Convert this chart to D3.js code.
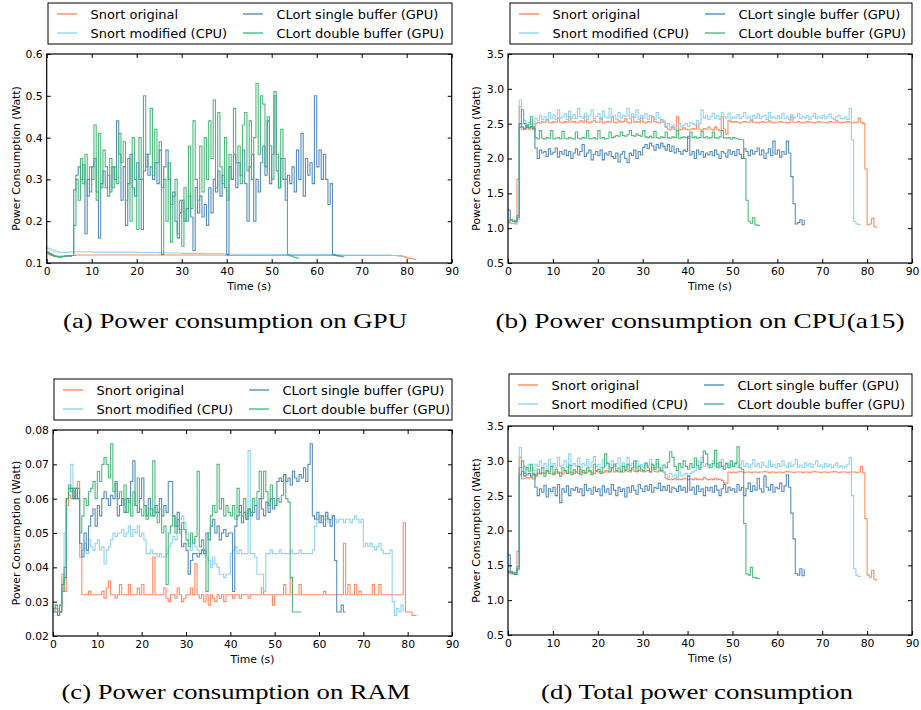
<!DOCTYPE html>
<html>
<head>
<meta charset="utf-8">
<script src="https://cdn.jsdelivr.net/npm/d3@7"></script>
<style>
  body { margin: 0; background: #fff; }
  svg text { font-family: "DejaVu Sans", sans-serif; }
</style>
</head>
<body>
<script>
const width = 921, height = 710;
const timeStep = 0.5; // one sample every half second, starting at t = 0

const seriesNames = ['Snort original', 'Snort modified (CPU)', 'CLort single buffer (GPU)', 'CLort double buffer (GPU)'];
const seriesColors = ['coral', 'skyblue', 'steelblue', 'mediumseagreen'];
const timeTicks = [0, 10, 20, 30, 40, 50, 60, 70, 80, 90];
const gpuTicks = [0.1, 0.2, 0.3, 0.4, 0.5, 0.6];
const cpuTicks = [0.5, 1.0, 1.5, 2.0, 2.5, 3.0, 3.5];
const ramTicks = [0.02, 0.03, 0.04, 0.05, 0.06, 0.07, 0.08];
const totalTicks = [0.5, 1.0, 1.5, 2.0, 2.5, 3.0, 3.5];
const captions = ['(a) Power consumption on GPU', '(b) Power consumption on CPU(a15)',
                  '(c) Power consumption on RAM', '(d) Total power consumption'];

// ---- (a) GPU
const gpuSnortOrig = [0.122,0.12,0.118,0.116,0.115,0.114,0.114,0.115,0.116,0.117,
  0.117,0.118,0.118,0.119,0.119,0.119,0.119,0.119,0.119,0.119,
  0.119,0.119,0.119,0.119,0.119,0.119,0.119,0.119,0.119,0.119,
  0.119,0.119,0.119,0.119,0.119,0.119,0.119,0.119,0.119,0.119,
  0.119,0.119,0.119,0.119,0.119,0.119,0.119,0.119,0.119,0.119,
  0.119,0.119,0.119,0.119,0.119,0.119,0.119,0.119,0.119,0.119,
  0.119,0.119,0.119,0.119,0.119,0.119,0.119,0.119,0.119,0.119,
  0.119,0.119,0.119,0.119,0.119,0.119,0.119,0.119,0.119,0.119,
  0.118,0.118,0.118,0.118,0.118,0.118,0.118,0.118,0.118,0.118,
  0.118,0.118,0.118,0.118,0.118,0.118,0.118,0.118,0.118,0.118,
  0.118,0.118,0.118,0.118,0.118,0.118,0.118,0.118,0.118,0.118,
  0.118,0.118,0.118,0.118,0.118,0.118,0.118,0.118,0.118,0.118,
  0.118,0.118,0.118,0.118,0.118,0.118,0.118,0.118,0.118,0.118,
  0.118,0.118,0.118,0.118,0.118,0.118,0.118,0.118,0.118,0.118,
  0.118,0.118,0.118,0.118,0.118,0.118,0.118,0.118,0.118,0.118,
  0.118,0.118,0.118,0.118,0.118,0.118,0.117,0.117,0.116,0.114,
  0.112,0.111,0.110,0.109,0.108];
const gpuSnortMod = [0.136,0.134,0.131,0.129,0.127,0.126,0.125,0.125,0.125,0.126,
  0.126,0.126,0.127,0.127,0.127,0.127,0.127,0.127,0.127,0.127,
  0.126,0.126,0.126,0.126,0.126,0.126,0.126,0.126,0.126,0.126,
  0.126,0.126,0.126,0.126,0.126,0.126,0.126,0.126,0.126,0.126,
  0.125,0.125,0.125,0.125,0.125,0.125,0.125,0.125,0.125,0.125,
  0.124,0.124,0.124,0.124,0.124,0.124,0.124,0.124,0.124,0.124,
  0.123,0.123,0.123,0.123,0.123,0.123,0.123,0.123,0.123,0.123,
  0.122,0.122,0.122,0.122,0.122,0.122,0.122,0.122,0.122,0.122,
  0.121,0.121,0.121,0.121,0.121,0.121,0.121,0.121,0.121,0.121,
  0.121,0.121,0.121,0.121,0.121,0.121,0.121,0.121,0.121,0.121,
  0.12,0.12,0.12,0.12,0.12,0.12,0.12,0.12,0.12,0.12,
  0.12,0.12,0.12,0.12,0.12,0.12,0.12,0.12,0.12,0.12,
  0.12,0.12,0.12,0.12,0.12,0.12,0.12,0.12,0.12,0.12,
  0.119,0.119,0.119,0.119,0.119,0.119,0.119,0.119,0.119,0.119,
  0.119,0.119,0.119,0.119,0.119,0.119,0.119,0.119,0.119,0.119,
  0.119,0.119,0.119,0.118,0.118,0.118,0.117,0.116,0.113];
const gpuClortSingle = [0.125,0.122,0.119,0.117,0.116,0.115,0.116,0.116,0.117,0.117,
  0.117,0.118,0.275,0.31,0.33,0.30,0.335,0.17,0.30,0.27,
  0.33,0.35,0.27,0.16,0.29,0.32,0.28,0.31,0.27,0.33,
  0.30,0.44,0.36,0.25,0.33,0.19,0.29,0.36,0.28,0.26,
  0.34,0.30,0.18,0.32,0.36,0.31,0.33,0.30,0.34,0.29,
  0.37,0.28,0.33,0.37,0.30,0.24,0.27,0.20,0.16,0.22,
  0.25,0.20,0.23,0.26,0.21,0.13,0.28,0.22,0.26,0.21,
  0.24,0.19,0.28,0.22,0.30,0.27,0.32,0.26,0.31,0.28,
  0.12,0.33,0.30,0.36,0.28,0.34,0.31,0.37,0.29,0.20,
  0.33,0.36,0.20,0.30,0.27,0.34,0.38,0.31,0.44,0.29,
  0.36,0.50,0.32,0.28,0.35,0.30,0.25,0.31,0.29,0.33,
  0.27,0.37,0.30,0.41,0.26,0.35,0.31,0.34,0.29,0.50,
  0.33,0.37,0.30,0.36,0.30,0.24,0.29,0.12,0.118,0.117,
  0.116,0.115,0.113];
const gpuClortDouble = [0.126,0.123,0.12,0.117,0.116,0.115,0.115,0.116,0.116,0.117,
  0.117,0.118,0.19,0.30,0.25,0.35,0.29,0.36,0.26,0.33,
  0.30,0.43,0.25,0.41,0.28,0.37,0.33,0.26,0.35,0.28,
  0.33,0.29,0.41,0.34,0.39,0.25,0.35,0.20,0.40,0.30,
  0.18,0.40,0.30,0.50,0.33,0.36,0.47,0.31,0.42,0.34,
  0.39,0.12,0.30,0.20,0.34,0.15,0.26,0.30,0.17,0.25,
  0.14,0.28,0.20,0.38,0.23,0.44,0.30,0.25,0.38,0.27,
  0.40,0.30,0.44,0.35,0.49,0.28,0.46,0.33,0.29,0.40,
  0.25,0.36,0.30,0.47,0.34,0.38,0.29,0.43,0.46,0.32,
  0.44,0.30,0.40,0.53,0.36,0.50,0.48,0.33,0.45,0.38,
  0.30,0.51,0.36,0.28,0.42,0.35,0.30,0.12,0.117,0.115,
  0.113,0.112,0.111];

// ---- (b) CPU (a15)
const cpuSnortOrig = [1.08,1.07,1.07,1.06,1.7,2.75,2.42,2.43,2.45,2.42,
  2.44,2.41,2.5,2.52,2.51,2.53,2.52,2.56,2.52,2.51,
  2.53,2.52,2.58,2.52,2.51,2.53,2.52,2.6,2.52,2.53,
  2.51,2.52,2.54,2.52,2.6,2.52,2.51,2.53,2.55,2.52,
  2.52,2.58,2.51,2.52,2.53,2.52,2.6,2.52,2.51,2.54,
  2.52,2.53,2.57,2.52,2.51,2.6,2.52,2.53,2.52,2.58,
  2.52,2.51,2.53,2.52,2.6,2.53,2.52,2.51,2.56,2.52,
  2.45,2.42,2.41,2.45,2.42,2.6,2.41,2.42,2.44,2.42,
  2.41,2.42,2.43,2.42,2.48,2.42,2.41,2.43,2.42,2.45,
  2.42,2.41,2.45,2.42,2.40,2.60,2.42,2.35,2.55,2.53,
  2.52,2.53,2.52,2.51,2.52,2.53,2.52,2.52,2.55,2.52,
  2.52,2.51,2.52,2.53,2.52,2.52,2.54,2.52,2.51,2.52,
  2.52,2.53,2.52,2.52,2.51,2.52,2.6,2.52,2.52,2.53,
  2.52,2.51,2.52,2.53,2.52,2.52,2.51,2.52,2.53,2.52,
  2.52,2.52,2.51,2.53,2.52,2.52,2.54,2.52,2.51,2.52,
  2.52,2.53,2.52,2.51,2.52,2.52,2.58,2.52,2.5,1.85,
  1.05,1.06,1.14,1.02,1.0];
const cpuSnortMod = [1.12,1.11,1.1,1.1,1.12,2.84,2.5,2.55,2.49,2.52,
  2.5,2.48,2.58,2.55,2.62,2.56,2.6,2.54,2.66,2.57,
  2.62,2.56,2.7,2.58,2.6,2.64,2.56,2.68,2.58,2.63,
  2.57,2.72,2.6,2.58,2.65,2.56,2.62,2.7,2.57,2.6,
  2.64,2.56,2.68,2.6,2.58,2.72,2.59,2.62,2.56,2.66,
  2.58,2.62,2.6,2.72,2.57,2.64,2.59,2.7,2.56,2.62,
  2.58,2.64,2.56,2.62,2.6,2.56,2.66,2.58,2.52,2.55,
  2.46,2.5,2.44,2.48,2.42,2.47,2.5,2.45,2.48,2.5,
  2.46,2.52,2.5,2.48,2.55,2.5,2.7,2.58,2.62,2.56,
  2.6,2.65,2.58,2.62,2.56,2.66,2.6,2.58,2.65,2.57,
  2.6,2.58,2.63,2.57,2.6,2.66,2.58,2.61,2.56,2.62,
  2.58,2.64,2.57,2.6,2.62,2.56,2.66,2.58,2.6,2.57,
  2.62,2.58,2.65,2.57,2.6,2.56,2.63,2.58,2.6,2.64,
  2.57,2.6,2.58,2.62,2.56,2.6,2.65,2.57,2.6,2.58,
  2.62,2.57,2.6,2.64,2.58,2.56,2.6,2.62,2.57,2.58,
  2.6,2.56,2.72,2.27,1.1,1.06,1.05,1.04];
const cpuClortSingle = [1.26,1.12,1.1,1.09,1.15,2.5,2.45,2.42,2.47,2.44,
  2.46,2.43,2.15,2.0,2.12,2.08,2.1,2.03,2.14,2.06,
  2.09,2.15,2.02,2.1,2.06,2.12,2.04,2.1,2.0,2.08,
  2.14,2.05,2.1,2.2,2.03,2.08,2.12,1.98,2.06,2.1,
  2.04,2.12,1.98,2.08,2.05,2.1,2.03,2.0,2.08,1.95,
  2.06,2.1,2.0,1.94,2.08,2.04,2.12,2.0,2.1,2.05,
  2.16,2.2,2.14,2.22,2.18,2.12,2.2,2.15,2.22,2.17,
  2.12,2.2,2.1,2.18,2.08,2.14,2.1,2.06,2.12,2.1,
  2.32,2.05,2.1,2.0,2.12,2.06,2.1,2.02,2.08,2.05,
  2.1,2.04,2.12,2.06,2.0,2.1,2.08,2.02,2.12,2.06,
  2.1,2.04,2.13,2.06,2.0,2.14,2.1,2.04,2.12,2.06,
  2.1,2.15,2.05,2.12,2.0,2.08,2.14,2.04,2.25,2.06,
  2.12,2.02,2.1,2.06,2.25,2.08,1.74,1.35,1.06,1.08,
  1.12,1.05,1.12];
const cpuClortDouble = [1.1,1.12,1.1,1.11,1.18,2.45,2.7,2.5,2.45,2.48,
  2.6,2.45,2.3,2.28,2.4,2.29,2.28,2.3,2.29,2.4,
  2.28,2.29,2.3,2.28,2.39,2.29,2.28,2.3,2.29,2.28,
  2.38,2.29,2.28,2.3,2.29,2.4,2.28,2.29,2.3,2.28,
  2.4,2.29,2.3,2.28,2.29,2.38,2.3,2.31,2.33,2.32,
  2.38,2.33,2.32,2.34,2.4,2.33,2.32,2.35,2.33,2.32,
  2.4,2.31,2.3,2.32,2.3,2.39,2.3,2.29,2.31,2.3,
  2.38,2.3,2.29,2.31,2.3,2.4,2.29,2.3,2.31,2.3,
  2.29,2.38,2.3,2.31,2.29,2.3,2.39,2.3,2.31,2.29,
  2.3,2.38,2.3,2.29,2.31,2.4,2.3,2.29,2.3,2.28,
  2.3,2.29,2.28,2.27,2.27,2.0,1.4,1.1,1.07,1.15,
  1.05,1.04,1.03];

// ---- (c) RAM
const ramSnortOrig = [0.0275,0.028,0.0275,0.027,0.038,0.033,0.058,0.061,0.06,0.062,
  0.06,0.065,0.043,0.032,0.032,0.032,0.033,0.032,0.032,0.032,
  0.032,0.032,0.033,0.031,0.034,0.036,0.032,0.032,0.031,0.032,
  0.035,0.032,0.032,0.032,0.035,0.032,0.032,0.032,0.034,0.032,
  0.035,0.032,0.032,0.032,0.032,0.043,0.032,0.032,0.032,0.032,
  0.034,0.031,0.030,0.032,0.032,0.031,0.034,0.032,0.030,0.031,
  0.032,0.032,0.034,0.032,0.041,0.032,0.031,0.032,0.030,0.032,
  0.029,0.032,0.031,0.030,0.032,0.031,0.032,0.030,0.032,0.032,
  0.032,0.031,0.032,0.032,0.031,0.032,0.032,0.032,0.031,0.032,
  0.032,0.032,0.032,0.032,0.034,0.032,0.032,0.032,0.032,0.029,
  0.032,0.032,0.032,0.032,0.035,0.032,0.032,0.037,0.032,0.032,
  0.032,0.035,0.032,0.032,0.032,0.032,0.032,0.032,0.032,0.032,
  0.032,0.032,0.033,0.032,0.032,0.032,0.032,0.032,0.032,0.032,
  0.032,0.047,0.032,0.035,0.032,0.032,0.035,0.032,0.033,0.032,
  0.032,0.032,0.032,0.032,0.035,0.032,0.032,0.035,0.032,0.032,
  0.032,0.032,0.032,0.032,0.032,0.032,0.032,0.032,0.053,0.027,
  0.027,0.027,0.026,0.026,0.026];
const ramSnortMod = [0.027,0.029,0.028,0.029,0.036,0.05,0.06,0.062,0.07,0.06,
  0.061,0.06,0.043,0.045,0.047,0.044,0.048,0.046,0.045,0.047,
  0.048,0.045,0.046,0.041,0.045,0.046,0.048,0.05,0.049,0.05,
  0.05,0.051,0.049,0.05,0.052,0.049,0.051,0.05,0.052,0.049,
  0.05,0.048,0.044,0.044,0.045,0.044,0.044,0.043,0.044,0.043,
  0.043,0.044,0.046,0.047,0.049,0.048,0.052,0.054,0.055,0.053,
  0.05,0.047,0.045,0.048,0.046,0.045,0.044,0.045,0.044,0.043,
  0.042,0.04,0.043,0.041,0.04,0.038,0.038,0.037,0.038,0.038,
  0.044,0.045,0.046,0.044,0.045,0.044,0.044,0.044,0.074,0.044,
  0.044,0.043,0.038,0.038,0.038,0.033,0.044,0.044,0.045,0.044,
  0.044,0.044,0.045,0.044,0.044,0.044,0.044,0.045,0.044,0.044,
  0.044,0.045,0.044,0.044,0.044,0.044,0.044,0.045,0.052,0.054,
  0.055,0.053,0.054,0.055,0.053,0.054,0.055,0.054,0.053,0.054,
  0.054,0.053,0.054,0.054,0.053,0.054,0.055,0.054,0.053,0.054,
  0.046,0.047,0.046,0.047,0.046,0.045,0.046,0.047,0.045,0.044,
  0.044,0.044,0.045,0.03,0.026,0.028,0.027,0.029,0.027];
const ramClortSingle = [0.027,0.027,0.026,0.027,0.035,0.037,0.06,0.063,0.063,0.06,
  0.063,0.06,0.047,0.043,0.05,0.045,0.052,0.055,0.057,0.052,
  0.058,0.055,0.06,0.062,0.06,0.058,0.061,0.06,0.0645,0.055,
  0.058,0.06,0.056,0.06,0.059,0.065,0.071,0.058,0.056,0.06,
  0.066,0.058,0.055,0.06,0.057,0.055,0.058,0.056,0.06,0.055,
  0.058,0.056,0.065,0.065,0.055,0.052,0.056,0.051,0.046,0.047,
  0.045,0.038,0.042,0.044,0.044,0.043,0.044,0.045,0.044,0.05,
  0.048,0.052,0.054,0.05,0.052,0.048,0.05,0.051,0.049,0.05,
  0.05,0.033,0.052,0.055,0.058,0.053,0.056,0.054,0.057,0.055,
  0.056,0.058,0.054,0.06,0.057,0.055,0.059,0.056,0.06,0.057,
  0.058,0.065,0.066,0.065,0.067,0.065,0.066,0.064,0.068,0.066,
  0.065,0.067,0.066,0.069,0.065,0.07,0.076,0.055,0.054,0.056,
  0.053,0.055,0.052,0.056,0.054,0.052,0.055,0.042,0.027,0.027,
  0.029,0.027,0.027];
const ramClortDouble = [0.028,0.029,0.027,0.029,0.033,0.04,0.06,0.064,0.062,0.063,
  0.06,0.063,0.05,0.055,0.06,0.058,0.062,0.063,0.065,0.06,
  0.068,0.065,0.07,0.072,0.07,0.066,0.076,0.062,0.065,0.06,
  0.062,0.058,0.064,0.056,0.06,0.055,0.062,0.058,0.066,0.057,
  0.055,0.058,0.054,0.057,0.055,0.071,0.056,0.053,0.057,0.05,
  0.052,0.035,0.05,0.052,0.055,0.05,0.054,0.05,0.053,0.051,
  0.048,0.046,0.05,0.047,0.049,0.068,0.046,0.048,0.045,0.033,
  0.05,0.055,0.058,0.056,0.07,0.057,0.06,0.055,0.058,0.056,
  0.055,0.058,0.054,0.063,0.056,0.055,0.06,0.054,0.057,0.056,
  0.06,0.058,0.062,0.068,0.06,0.068,0.062,0.058,0.064,0.06,
  0.058,0.06,0.059,0.061,0.067,0.06,0.059,0.037,0.027,0.027,
  0.027,0.027,0.027];

// ---- (d) total
const totalSnortOrig = [1.39,1.38,1.38,1.37,1.7,3.05,2.74,2.75,2.76,2.75,
  2.76,2.74,2.8,2.82,2.81,2.83,2.82,2.85,2.82,2.81,
  2.82,2.84,2.82,2.83,2.81,2.86,2.82,2.84,2.83,2.82,
  2.84,2.82,2.88,2.83,2.82,2.84,2.85,2.83,2.82,2.86,
  2.84,2.85,2.83,2.86,2.84,2.85,2.9,2.84,2.85,2.84,
  2.85,2.84,2.86,2.85,2.84,2.88,2.85,2.84,2.86,2.85,
  2.84,2.85,2.86,2.84,2.9,2.85,2.84,2.86,2.85,2.84,
  2.75,2.73,2.74,2.73,2.75,2.73,2.74,2.73,2.75,2.74,
  2.73,2.74,2.73,2.75,2.73,2.74,2.73,2.76,2.74,2.73,
  2.74,2.73,2.75,2.73,2.74,2.72,2.68,2.68,2.84,2.83,
  2.84,2.83,2.84,2.85,2.84,2.83,2.84,2.84,2.83,2.84,
  2.84,2.83,2.84,2.84,2.85,2.84,2.83,2.84,2.84,2.83,
  2.84,2.84,2.83,2.84,2.85,2.84,2.84,2.83,2.84,2.84,
  2.84,2.83,2.84,2.84,2.83,2.84,2.85,2.84,2.84,2.83,
  2.84,2.84,2.83,2.84,2.84,2.85,2.84,2.83,2.84,2.84,
  2.84,2.83,2.84,2.84,2.84,2.83,2.84,2.92,2.83,2.17,
  1.36,1.33,1.43,1.3,1.28];
const totalSnortMod = [1.42,1.41,1.4,1.4,1.43,3.19,2.9,2.92,2.88,2.95,
  2.9,2.86,2.95,2.92,3.0,2.9,2.96,2.88,3.02,2.92,
  2.96,2.9,3.05,2.92,2.94,3.0,2.9,3.1,2.93,2.96,
  2.92,3.04,2.9,2.96,2.93,3.02,2.9,2.98,3.06,2.92,
  2.95,2.9,3.02,2.93,2.97,2.91,3.0,2.92,2.96,3.04,
  2.92,2.97,2.9,3.05,2.93,2.96,2.9,3.0,2.92,2.95,
  2.9,2.98,2.92,3.02,2.93,2.9,2.96,2.88,2.85,2.84,
  2.8,2.76,2.82,2.78,2.8,2.76,2.84,2.78,2.8,2.82,
  2.78,2.82,2.84,2.86,3.0,2.9,3.05,2.92,2.96,2.9,
  2.95,3.0,2.92,2.96,2.9,3.02,2.93,2.97,2.9,2.95,
  2.92,2.98,2.9,2.94,3.0,2.92,2.96,2.9,2.95,3.02,
  2.92,2.96,2.9,2.98,2.93,2.91,3.0,2.92,2.95,2.9,
  2.96,2.92,3.0,2.93,2.9,2.97,2.92,2.95,3.02,2.91,
  2.94,2.9,2.97,2.93,2.96,2.91,2.95,3.0,2.92,2.94,
  2.9,2.96,2.92,2.95,2.9,2.94,2.97,2.91,2.93,2.9,
  2.92,2.95,3.05,2.5,1.45,1.36,1.34,1.33];
const totalClortSingle = [1.65,1.4,1.38,1.37,1.45,2.8,2.85,2.78,2.8,2.82,
  2.78,2.8,2.62,2.5,2.6,2.55,2.65,2.48,2.6,2.56,
  2.62,2.5,2.66,2.4,2.6,2.55,2.64,2.5,2.6,2.58,
  2.62,2.55,2.6,2.5,2.66,2.57,2.6,2.52,2.62,2.56,
  2.6,2.5,2.64,2.55,2.6,2.52,2.66,2.58,2.5,2.62,
  2.56,2.6,2.48,2.62,2.55,2.64,2.58,2.52,2.66,2.6,
  2.56,2.64,2.58,2.66,2.55,2.62,2.6,2.68,2.57,2.63,
  2.58,2.65,2.55,2.62,2.6,2.56,2.64,2.58,2.62,2.55,
  2.78,2.58,2.62,2.52,2.64,2.56,2.6,2.5,2.62,2.57,
  2.62,2.55,2.64,2.58,2.5,2.6,2.66,2.55,2.62,2.58,
  2.6,2.55,2.66,2.58,2.62,2.5,2.6,2.68,2.56,2.64,
  2.58,2.75,2.6,2.55,2.78,2.62,2.58,2.66,2.55,2.62,
  2.6,2.68,2.56,2.64,2.8,2.62,2.25,1.88,1.38,1.36,
  1.45,1.35,1.44];
const totalClortDouble = [1.4,1.41,1.39,1.4,1.48,2.9,3.0,2.82,2.9,2.85,
  2.95,2.82,2.78,2.88,2.82,2.9,2.78,2.86,2.84,2.92,
  2.8,2.88,2.84,2.78,2.9,2.86,2.82,2.94,2.8,2.87,
  2.84,2.92,2.8,2.86,2.83,2.9,2.86,2.8,2.95,2.85,
  2.88,2.82,2.9,3.1,2.96,2.84,2.9,2.95,2.86,2.9,
  2.84,2.92,2.87,2.95,2.86,2.9,3.0,2.85,2.92,2.88,
  2.86,2.96,2.9,2.84,2.95,2.88,3.02,2.9,2.86,2.94,
  2.9,2.98,3.13,3.05,2.92,2.86,2.96,2.9,3.0,2.92,
  2.88,2.96,2.9,3.04,2.93,2.88,2.98,3.14,3.1,2.94,
  2.9,2.96,3.15,2.9,2.98,2.92,2.88,2.96,2.9,3.0,
  2.92,2.96,3.2,2.9,2.88,2.1,1.38,1.36,1.47,1.33,
  1.32,1.31,1.3];

// layout of the four panels (pixel positions measured on the page)
const panels = [
  { series: [gpuSnortOrig, gpuSnortMod, gpuClortSingle, gpuClortDouble], ticks: gpuTicks, fmt: '.1f',
    l: 46.7, r: 451.7, t: 54, b: 263, legend: [48, 3, 404, 41], labelX: 16, cap: [235, 328, 344] },
  { series: [cpuSnortOrig, cpuSnortMod, cpuClortSingle, cpuClortDouble], ticks: cpuTicks, fmt: '.1f',
    l: 508, r: 912, t: 54, b: 263, legend: [510, 3, 402, 41], labelX: 476, cap: [700, 328, 409] },
  { series: [ramSnortOrig, ramSnortMod, ramClortSingle, ramClortDouble], ticks: ramTicks, fmt: '.2f',
    l: 53, r: 452, t: 430, b: 636, legend: [54, 379, 398, 41], labelX: 16, cap: [236, 699, 349] },
  { series: [totalSnortOrig, totalSnortMod, totalClortSingle, totalClortDouble], ticks: totalTicks, fmt: '.1f',
    l: 508, r: 912, t: 426, b: 635, legend: [509, 374, 403, 42], labelX: 476, cap: [697, 699, 312] }
];

const svg = d3.select('body').append('svg')
  .attr('width', width)
  .attr('height', height);

panels.forEach((p, pi) => {
  const x = d3.scaleLinear().domain([0, 90]).range([p.l, p.r]);
  const y = d3.scaleLinear().domain(d3.extent(p.ticks)).range([p.b, p.t]);
  const g = svg.append('g');

  const clipId = 'clip' + pi;
  svg.append('clipPath').attr('id', clipId)
    .append('rect').attr('x', p.l).attr('y', p.t).attr('width', p.r - p.l).attr('height', p.b - p.t);

  const line = d3.line()
    .x((d, i) => x(i * timeStep))
    .y(d => y(d))
    .curve(d3.curveStepAfter);

  g.append('g').attr('clip-path', `url(#${clipId})`)
    .selectAll('path')
    .data(p.series)
    .join('path')
      .attr('d', line)
      .attr('fill', 'none')
      .attr('stroke', (d, i) => seriesColors[i])
      .attr('stroke-width', 1.1)
      .attr('stroke-opacity', 0.9);

  // axes, ticks pointing inwards on all four sides
  const styleAxis = sel => {
    sel.select('.domain').remove();
    sel.attr('font-family', 'DejaVu Sans').attr('font-size', 10.8).attr('color', '#000');
    sel.selectAll('.tick line').attr('stroke-width', 1);
  };
  g.append('g').attr('transform', `translate(0,${p.b})`)
    .call(d3.axisBottom(x).tickValues(timeTicks).tickSizeInner(-4).tickSizeOuter(0).tickPadding(4))
    .call(styleAxis);
  g.append('g').attr('transform', `translate(0,${p.t})`)
    .call(d3.axisTop(x).tickValues(timeTicks).tickSize(-4).tickFormat(''))
    .call(styleAxis);
  g.append('g').attr('transform', `translate(${p.l},0)`)
    .call(d3.axisLeft(y).tickValues(p.ticks).tickSizeInner(-4).tickSizeOuter(0).tickPadding(4).tickFormat(d3.format(p.fmt)))
    .call(styleAxis);
  g.append('g').attr('transform', `translate(${p.r},0)`)
    .call(d3.axisRight(y).tickValues(p.ticks).tickSize(-4).tickFormat(''))
    .call(styleAxis);

  g.append('rect')
    .attr('x', p.l).attr('y', p.t)
    .attr('width', p.r - p.l).attr('height', p.b - p.t)
    .attr('fill', 'none').attr('stroke', '#000').attr('stroke-width', 1.2);

  g.append('text')
    .attr('x', (p.l + p.r) / 2).attr('y', p.b + 27)
    .attr('text-anchor', 'middle').attr('font-size', 10.8)
    .text('Time (s)');

  g.append('text')
    .attr('transform', `translate(${p.labelX},${(p.t + p.b) / 2}) rotate(-90)`)
    .attr('text-anchor', 'middle').attr('dy', '0.35em').attr('font-size', 10.8)
    .text('Power Consumption (Watt)');

  // legend, two columns
  const [lx, ly, lw, lh] = p.legend;
  const lg = g.append('g').attr('transform', `translate(${lx},${ly})`);
  lg.append('rect').attr('width', lw).attr('height', lh)
    .attr('fill', '#fff').attr('stroke', '#000').attr('stroke-width', 1);
  const item = lg.selectAll('g.item')
    .data(seriesNames)
    .join('g')
      .attr('class', 'item')
      .attr('transform', (d, i) => `translate(${i < 2 ? 0 : 186},${i % 2 === 0 ? 11 : 30})`);
  item.append('line')
    .attr('x1', 9).attr('x2', 29)
    .attr('stroke', (d, i) => seriesColors[i])
    .attr('stroke-width', 1.5).attr('stroke-opacity', 0.85);
  item.append('text')
    .attr('x', 42.5).attr('dy', '0.35em').attr('font-size', 13)
    .text(d => d);

  const [cx, cy, cw] = p.cap;
  svg.append('text')
    .attr('x', cx).attr('y', cy)
    .attr('text-anchor', 'middle')
    .style('font-family', '"Liberation Serif", serif')
    .attr('font-size', 22)
    .attr('textLength', cw)
    .attr('lengthAdjust', 'spacingAndGlyphs')
    .text(captions[pi]);
});
</script>
</body>
</html>
